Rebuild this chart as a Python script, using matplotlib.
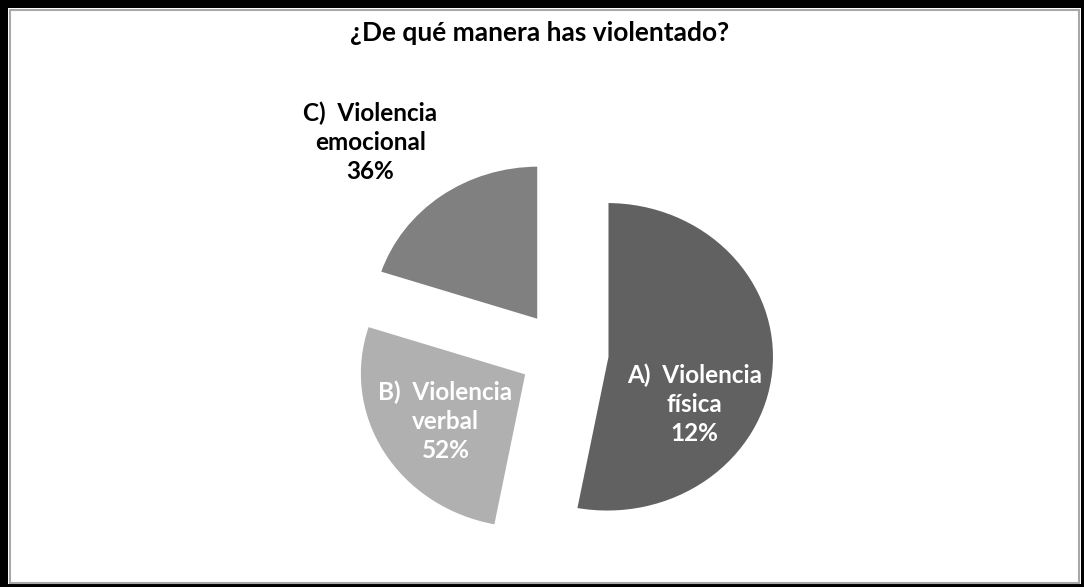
import matplotlib
matplotlib.use("Agg")
import matplotlib.pyplot as plt
from matplotlib.patches import Rectangle

# visual share of each slice (as drawn) and the printed labels
categories = ["A)  Violencia\nfísica", "B)  Violencia\nverbal", "C)  Violencia\nemocional"]
slice_shares = [53, 27, 20]
printed_pct = ["12%", "52%", "36%"]
colors = ["#616161", "#b0b0b0", "#808080"]
text_colors = ["white", "white", "black"]

plt.rcParams['font.family'] = ['Lato', 'DejaVu Sans']

W, H = 1084, 587
fig = plt.figure(figsize=(W / 100, H / 100), dpi=100, facecolor='black')

# white chart area inside a black border (thick left/top, thin right/bottom)
fig.patches.append(Rectangle((8 / W, 3 / H), 1 - 11 / W, 1 - 11 / H, transform=fig.transFigure,
                             facecolor='white', edgecolor='none', zorder=-2))
fig.patches.append(Rectangle((10 / W, 4.5 / H), 1 - 15 / W, 1 - 14.5 / H, transform=fig.transFigure,
                             fill=False, edgecolor='#a8a8a8', linewidth=1.5, zorder=-1))

ax = fig.add_axes([0, 0, 1, 1])
ax.patch.set_alpha(0)

wedges, _ = ax.pie(slice_shares, colors=colors, startangle=90, counterclock=False,
                   explode=[0.26, 0.26, 0.26], radius=1.0,
                   wedgeprops=dict(edgecolor="white", linewidth=1.8))

# pie centre sits at pixel (564, 353); slightly wider than tall
rx, ry = 167, 155
ax.set_aspect('auto')
ax.set_xlim(-564 / rx, (W - 564) / rx)
ax.set_ylim(-(H - 353) / ry, 353 / ry)
ax.axis('off')

label_pos = [(0.78, -0.33), (-0.71, -0.44), (-1.16, 1.36)]
for cat, pct, (x, y), tc in zip(categories, printed_pct, label_pos, text_colors):
    ax.text(x, y, cat + "\n" + pct, ha='center', va='center', color=tc,
            fontsize=17.5, fontweight='bold', linespacing=1.3)

fig.text(540 / W, 1 - 33 / H, "¿De qué manera has violentado?", ha='center', va='center',
         fontsize=19, fontweight='bold')

fig.savefig("out.png", dpi=100, facecolor=fig.get_facecolor())
